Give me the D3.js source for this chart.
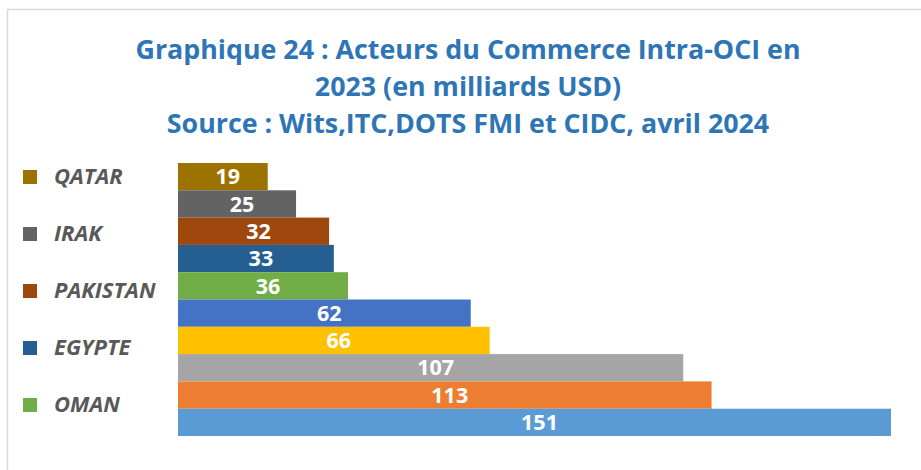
<!DOCTYPE html>
<html>
<head>
<meta charset="utf-8">
<script src="https://cdn.jsdelivr.net/npm/d3@7"></script>
<style>
  body { margin: 0; background: #fff; }
</style>
</head>
<body>
<div id="chart"></div>
<script>
// values, top bar first
let values = [19, 25, 32, 33, 36, 62, 66, 107, 113, 151];
let colors = ["#9C7200", "#636363", "#9E480E", "#255E91", "#70AD47",
              "#4472C4", "#FFC000", "#A5A5A5", "#ED7D31", "#5B9BD5"];
// only the first five legend entries are visible in the picture
let legendNames = ["QATAR", "IRAK", "PAKISTAN", "EGYPTE", "OMAN"];
let titleLines = ["Graphique 24 : Acteurs du Commerce Intra-OCI en",
                  "2023 (en milliards USD)",
                  "Source : Wits,ITC,DOTS FMI et CIDC, avril 2024"];

let width = 921, height = 470;
let margin = {top: 163, right: 30, bottom: 34, left: 178};

let svg = d3.select("#chart")
            .append("svg")
            .attr("width", width)
            .attr("height", height);

// chart frame
svg.append("rect")
   .attr("x", 7.5)
   .attr("y", 9.5)
   .attr("width", width + 20)
   .attr("height", height + 20)
   .attr("fill", "none")
   .attr("stroke", "#d9d9d9")
   .attr("stroke-width", 1.5);

svg.append("g")
   .selectAll("text")
   .data(titleLines)
   .enter()
   .append("text")
   .attr("x", 468)
   .attr("y", (d, i) => 59 + i * 37)
   .attr("text-anchor", "middle")
   .style("font-family", "'Open Sans', sans-serif")
   .style("font-weight", "bold")
   .style("font-size", "26.8px")
   .style("fill", "#2E75B6")
   .text(d => d);

let x = d3.scaleLinear()
          .domain([0, 151])
          .range([margin.left, width - margin.right]);

let y = d3.scaleBand()
          .domain(d3.range(values.length))
          .range([margin.top, height - margin.bottom])
          .padding(0);

let bars = svg.append("g")
              .selectAll("g")
              .data(values)
              .enter()
              .append("g");

bars.append("rect")
    .attr("x", x(0))
    .attr("y", (d, i) => y(i))
    .attr("width", d => x(d) - x(0))
    .attr("height", y.bandwidth())
    .attr("fill", (d, i) => colors[i]);

bars.append("text")
    .attr("x", d => (x(0) + x(d)) / 2 + 5)
    .attr("y", (d, i) => y(i) + y.bandwidth() / 2)
    .attr("dy", ".36em")
    .attr("text-anchor", "middle")
    .style("font-family", "'Open Sans', sans-serif")
    .style("font-weight", "bold")
    .style("font-size", "21.5px")
    .style("fill", "#fff")
    .text(d => d);

let legend = svg.selectAll(".legend")
    .data(legendNames)
    .enter().append("g")
    .attr("class", "legend")
    .attr("transform", (d, i) => "translate(23," + (177 + i * 57) + ")");

legend.append("rect")
    .attr("y", -7)
    .attr("width", 14)
    .attr("height", 14)
    .style("fill", (d, i) => colors[i]);

legend.append("text")
    .attr("x", 31)
    .attr("dy", ".3em")
    .style("font-family", "'Open Sans', sans-serif")
    .style("font-weight", "bold")
    .style("font-style", "italic")
    .style("font-size", "22px")
    .style("fill", "#595959")
    .text(d => d);
</script>
</body>
</html>
